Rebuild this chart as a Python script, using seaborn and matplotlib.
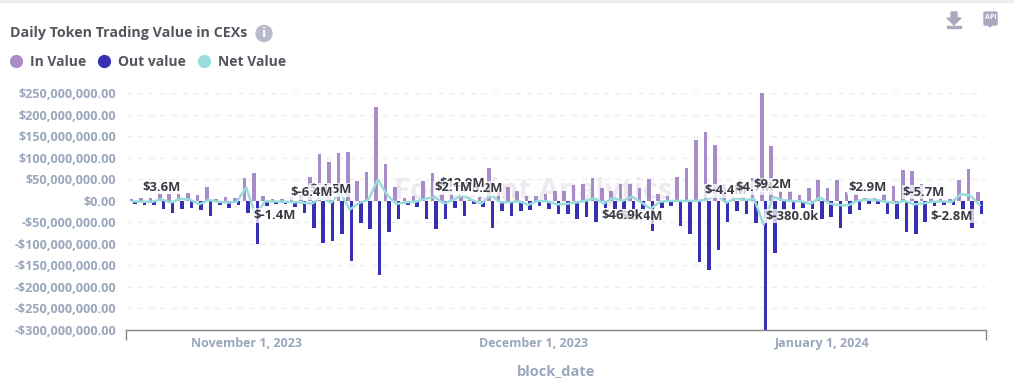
import numpy as np
import pandas as pd
import matplotlib.pyplot as plt
import seaborn as sns
from matplotlib.lines import Line2D
from matplotlib.patches import Circle, FancyBboxPatch, Polygon, Rectangle, Ellipse

W, H = 1015, 392

days = [d.strftime('%Y-%m-%d') for d in pd.date_range('2023-10-20', periods=91)]

# values in millions
in_value = [4, 6, 6, 16, 16, 16, 18, 13, 32, 4, 9, 6, 53, 65, 11, 4, 4, 9, 13, 55,
            109, 90, 112, 114, 46, 67, 219, 86, 32, 6, 11, 46, 65, 16, 16, 16, 2, 9, 76, 20,
            32, 23, 11, 11, 16, 23, 23, 37, 39, 53, 30, 23, 39, 39, 30, 51, 16, 11, 55, 76,
            142, 160, 130, 39, 9, 9, 53, 250, 128, 23, 23, 13, 30, 48, 30, 48, 20, 16, 6, 6,
            16, 34, 72, 69, 39, 6, 6, 4, 48, 74, 20]
out_value = [-8, -10, -10, -20, -27, -20, -17, -22, -34, -10, -17, -10, -27, -101, -12, -8, -8, -15, -27, -64,
             -97, -94, -78, -139, -52, -66, -172, -73, -41, -10, -15, -41, -66, -41, -17, -34, -8, -15, -62, -24,
             -36, -24, -22, -12, -20, -31, -31, -41, -38, -50, -17, -20, -22, -20, -24, -71, -17, -12, -59, -78,
             -143, -160, -115, -48, -24, -31, -52, -305, -122, -22, -22, -17, -20, -43, -38, -62, -31, -22, -8, -8,
             -31, -41, -73, -78, -50, -12, -10, -10, -22, -64, -31]
net_value = [-1, -2, -2, 3.6, -4, 5, 3, -8, 2, -2, -4, -2, 31, -33, -1, -1.4, -2, -3, -4, -6.4,
             10, -4.5, 20, -20, -5, 3, 50, 13, -7, -3, -2, 5, 9, -6, 2.1, 12.9, 2, -6.2, 14, -3,
             -3, -1, -9, 0, -1, -8, -7, -4, 0, 6, -6, 7, 0.05, 10, -3.4, -18, -2, 0, 0, 0,
             0, 3, 14, -4.4, 6, 2, 4.7, -55, 9.2, 2, -0.38, -1, -7, 8, -6, -10, -10, 0, 2.9, 2,
             -2, -5, 0, -8, -5.7, -2, -1, -2.8, 16, 12, -10]

label_idx = [3, 15, 21, 19, 37, 35, 34, 54, 52, 63, 66, 68, 70, 78, 84, 87]
label_text = ['$3.6M', '$-1.4M', '$-4.5M', '$-6.4M', '$-6.2M', '$12.9M', '$2.1M', '$-3.4M', '$46.9k',
              '$-4.4M', '$4.7M', '$9.2M', '$-380.0k', '$2.9M', '$-5.7M', '$-2.8M']
label_rise = [12, -14, 13, 11, 15, 12, 12, -14, -15, 12, 11, 12, -15, 12, 11, -14]

y_ticks = [250, 200, 150, 100, 50, 0, -50, -100, -150, -200, -250, -300]
date_ticks = [12, 42.5, 73.3]
date_labels = ['November 1, 2023', 'December 1, 2023', 'January 1, 2024']

IN_COLOR = '#a98bc9'
OUT_COLOR = '#3730b5'
NET_COLOR = '#9adcdb'
TICK_COLOR = '#9aa7bd'
TEXT_COLOR = '#55555f'
ICON_COLOR = '#a9a9c0'

plt.rcParams['font.family'] = ['Open Sans', 'DejaVu Sans']


def fx(x):
    return x / W


def fy(y):
    return 1 - y / H


def money(v):
    if v < 0:
        return '-$' + format(-v * 1e6, ',.2f')
    return '$' + format(v * 1e6, ',.2f')


df = pd.DataFrame({'day': days * 2,
                   'value': in_value + out_value,
                   'kind': ['In Value'] * len(days) + ['Out value'] * len(days)})
net_df = pd.DataFrame({'pos': np.arange(len(days)), 'net': net_value})

fig = plt.figure(figsize=(W / 100, H / 100), dpi=100)
ax = fig.add_axes([fx(126), fy(330), fx(860), (330 - 93.3) / H])

sns.barplot(data=df, x='day', y='value', hue='kind', order=days,
            palette={'In Value': IN_COLOR, 'Out value': OUT_COLOR},
            width=0.76, gap=0, saturation=1, legend=False, ax=ax, zorder=2, linewidth=0)
sns.lineplot(data=net_df, x='pos', y='net', color=NET_COLOR, linewidth=1.8, ax=ax, zorder=3)

ax.set_xlim(-0.776, 90.65)
ax.set_ylim(-300, 250)
ax.set_yticks(y_ticks)
ax.set_yticklabels([money(v) for v in y_ticks], color=TICK_COLOR, fontsize=9.1, fontweight='bold')
ax.set_xticks(date_ticks)
ax.set_xticklabels(date_labels, color=TICK_COLOR, fontsize=9, fontweight='bold')
ax.set_xticks([-0.776, 90.65], minor=True)
ax.tick_params(axis='x', which='major', length=0, pad=5)
ax.tick_params(axis='x', which='minor', length=7, width=1, color='#888888')
ax.tick_params(axis='y', length=0, pad=7)
ax.set_xlabel('block_date', color=TICK_COLOR, fontsize=10.5, fontweight='bold', labelpad=10)
ax.set_ylabel('')

ax.grid(axis='y', color='#eeeeee', linestyle=(0, (4, 4)), linewidth=1, zorder=0)
ax.set_axisbelow(True)
for side in ['top', 'left', 'right']:
    ax.spines[side].set_visible(False)
ax.spines['bottom'].set_color('#888888')
ax.spines['bottom'].set_linewidth(1)

# watermark
ax.text(0.473, 0.587, 'Footprint Analytics', transform=ax.transAxes, ha='center', va='center',
        fontsize=21, fontweight='bold', color='#ececef', zorder=1)
for cx, cy, w, h, ang in [(306, 178, 13, 32, 40), (322, 207, 14, 32, -25), (345, 180, 12, 26, 15)]:
    fig.add_artist(Ellipse((cx, H - cy), w, h, angle=ang, color='#ebebef', transform=None, zorder=0))

for idx, text, rise in zip(label_idx, label_text, label_rise):
    ax.annotate(text, xy=(idx, net_value[idx]), xytext=(0, rise), textcoords='offset pixels',
                ha='center', va='center', fontsize=9.4, fontweight='bold', color='#3a3a44', zorder=5,
                annotation_clip=False,
                bbox=dict(boxstyle='square,pad=0.05', facecolor='white', edgecolor='none', alpha=0.75))

# title, legend
fig.text(fx(10), fy(33), 'Daily Token Trading Value in CEXs', ha='left', va='center',
         fontsize=10.3, fontweight='bold', color=TEXT_COLOR)
handles = [Line2D([], [], linestyle='none', marker='o', markersize=8.5, color=c)
           for c in [IN_COLOR, OUT_COLOR, NET_COLOR]]
fig.legend(handles, ['In Value', 'Out value', 'Net Value'], ncol=3, frameon=False,
           loc='center left', bbox_to_anchor=(fx(2), fy(62)), borderaxespad=0, borderpad=0,
           handletextpad=0, columnspacing=0.3,
           labelcolor=TEXT_COLOR, prop={'weight': 'bold', 'size': 10})

# info icon
fig.add_artist(Circle((264, H - 33.5), 8, color='#babace', transform=None))
fig.text(fx(264), fy(33.5), 'i', ha='center', va='center', fontsize=9.5, fontweight='bold', color='white')

# top band and the toolbar icons
fig.add_artist(Rectangle((0, H - 2), W, 2, color='#efefef', transform=None))
fig.add_artist(Polygon([(951, H - 12), (957, H - 12), (957, H - 18), (961, H - 18), (954, H - 25), (947, H - 18), (951, H - 18)],
                       color=ICON_COLOR, transform=None))
fig.add_artist(Rectangle((947, H - 27.5), 14, 2, color=ICON_COLOR, transform=None))
fig.add_artist(FancyBboxPatch((985, H - 24), 11, 11, boxstyle='round,pad=1', color=ICON_COLOR, transform=None))
fig.add_artist(Polygon([(987, H - 24), (993, H - 24), (990, H - 27)], color=ICON_COLOR, transform=None))
fig.text(fx(990.5), fy(17.5), 'API', ha='center', va='center', fontsize=5, fontweight='bold', color='white')

fig.savefig('out.png', dpi=100)
